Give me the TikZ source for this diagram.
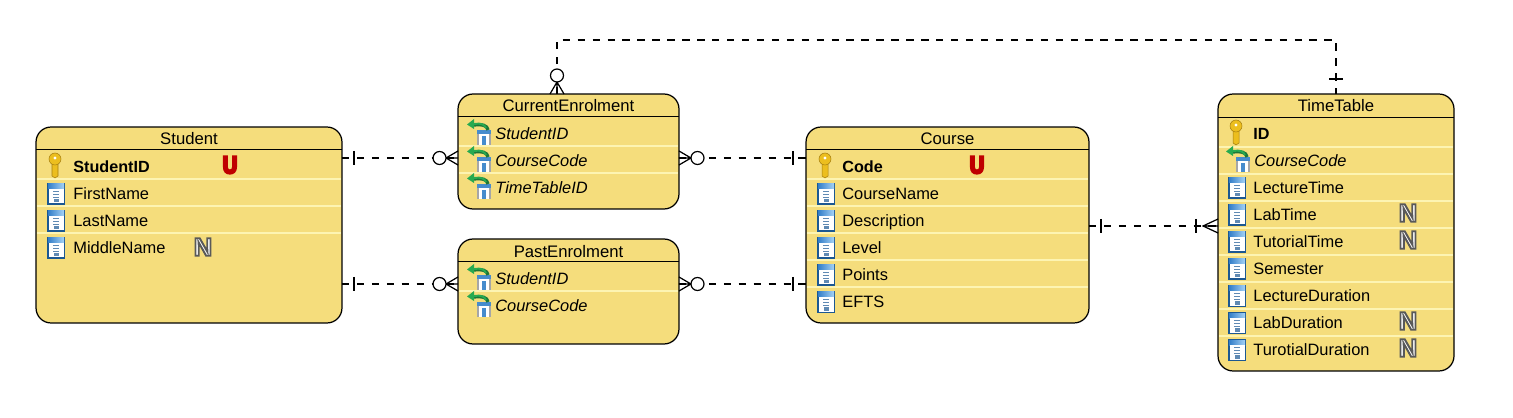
\documentclass[tikz,border=0pt]{standalone}
\usepackage{fontspec}
\usepackage{graphicx}
\usepackage{xcolor}
\usepackage{tikz}
\setmainfont{Liberation Sans}
\definecolor{entityfill}{RGB}{245,221,124}
\definecolor{rowline}{RGB}{253,244,178}
\definecolor{colblue}{RGB}{28,88,146}
\definecolor{colmid}{RGB}{50,125,200}
\definecolor{colsky}{RGB}{165,210,245}
\definecolor{keygold}{RGB}{236,190,30}
\definecolor{keydark}{RGB}{165,125,15}
\definecolor{fkgreen}{RGB}{40,170,80}
\definecolor{fkblue}{RGB}{70,140,205}
% outlined letters: one text, stroked and filled
\newcommand{\ubadge}{\scalebox{1}[1.2]{\special{pdf:code q 2 Tr 0.75 0 0 RG 0.75 0 0 rg 1.1 w}\textbf{U}\special{pdf:code Q}}}
\newcommand{\nbadge}{\special{pdf:code q 2 Tr 0.35 0.35 0.35 RG 1 1 1 rg 1.1 w}\textbf{N}\special{pdf:code Q}}
\tikzset{
	entity/.style={draw,fill=entityfill,rounded corners=0.3cm,line width=0.7pt,inner sep=0pt,outer sep=0pt},
	title/.style={font=\fontsize{9.5}{11}\selectfont,inner sep=0pt,text height=6.8pt,text depth=0pt},
	attr/.style={font=\fontsize{9.35}{11}\selectfont,anchor=west,inner sep=0pt,text height=6.7pt,text depth=0pt},
	pkattr/.style={font=\fontsize{9.2}{11}\selectfont\bfseries,anchor=west,inner sep=0pt,text height=6.7pt,text depth=0pt},
	fkattr/.style={font=\fontsize{9.35}{11}\selectfont\itshape,anchor=west,inner sep=0pt,text height=6.7pt,text depth=0pt},
	ubox/.style={font=\fontsize{11.5}{12}\selectfont,inner sep=0pt},
	nbox/.style={font=\fontsize{14.5}{15}\selectfont,inner sep=0pt},
	headline/.style={line width=0.55pt},
	rowsep/.style={rowline,line width=0.7pt},
	relation/.style={line width=0.7pt,dash pattern=on 4.2pt off 4.3pt},
	tipline/.style={line width=0.7pt},
	colicon/.pic={
		\fill[colblue] (-9,-10) rectangle (9,12);
		\shade[left color=colmid,right color=colsky] (-8,-9) rectangle (8,-4);
		\fill[white] (-7.5,-4) rectangle (7.5,10.5);
		\draw[colblue!70,line width=0.4pt] (-3,-1.5) -- (3,-1.5) (-3,1.5) -- (3,1.5) (-3,4) -- (3,4);
		\fill[colblue!70] (-2.5,6) rectangle (2.5,9.5);
	},
	keyicon/.pic={
		\fill[keygold,draw=keydark,line width=0.3pt] (-3,-3) -- (-3,11) -- (0,13) -- (3,11) -- (3,-3) -- cycle;
		\fill[keygold,draw=keydark,line width=0.3pt] (0,-6) circle (6);
		\fill[white] (0,-7) circle (1.7);
	},
	fkicon/.pic={
		\fill[black!35] (-1,-3) rectangle (13,12);
		\fill[fkblue] (-1,-3) rectangle (13,1);
		\fill[white] (1,1) rectangle (11,12);
		\fill[fkblue] (4,3) rectangle (8,12);
		\draw[fkgreen!70!black,line width=1.9pt] (10,-3) .. controls (9,-8) and (4,-9) .. (-4,-8);
		\draw[fkgreen,line width=1.1pt] (8,-5) .. controls (6,-9) and (3,-10) .. (-4,-9);
		\fill[fkgreen] (-11,-8.5) -- (-4,-14) -- (-4,-4) -- cycle;
	},
	onebar/.pic={
		\draw[tipline] (0,-7) -- (0,7);
	},
	zeromany/.pic={
		\draw[tipline] (0,-7) -- (-12,0) -- (0,7) (0,0) -- (-12,0);
		\draw[tipline,fill=white] (-18.5,0) circle (6.5);
	},
	onemany/.pic={
		\draw[tipline] (0,-7) -- (-15,0) -- (0,7) (0,0) -- (-15,0);
		\draw[tipline] (-22,-7) -- (-22,7);
	}
}

\begin{document}
\begin{tikzpicture}[x=0.02cm,y=-0.02cm]
	\useasboundingbox (0,0) rectangle (1513,418);

	% entities
	\node (student) at (189,225) [entity,minimum width=6.12cm,minimum height=3.92cm] {};
	\node (current) at (568.5,151.5) [entity,minimum width=4.42cm,minimum height=2.3cm] {};
	\node (past) at (568.5,291.5) [entity,minimum width=4.42cm,minimum height=2.1cm] {};
	\node (course) at (947.5,225) [entity,minimum width=5.66cm,minimum height=3.92cm] {};
	\node (timetable) at (1336,232.5) [entity,minimum width=4.72cm,minimum height=5.54cm] {};

	% Student
	\node (studentT) at (189,139) [title] {Student};
	\draw[headline] (student.west |- 0,149) -- (student.east |- 0,149);
	\draw[rowsep] (37,179) -- (341,179);
	\draw[rowsep] (37,206) -- (341,206);
	\draw[rowsep] (37,233) -- (341,233);
	\pic at (55,165) {keyicon};
	\pic at (56,193) {colicon};
	\pic at (56,220) {colicon};
	\pic at (56,247) {colicon};
	\node (studentId) at (73,167) [pkattr] {StudentID};
	\node (studentFirst) at (73,194) [attr] {FirstName};
	\node (studentLast) at (73,221) [attr] {LastName};
	\node (studentMiddle) at (73,248) [attr] {MiddleName};
	\node (studentU) at (230,165) [ubox] {\ubadge};
	\node (studentN) at (203,247) [nbox] {\nbadge};

	% CurrentEnrolment
	\node (currentT) at (568.5,106) [title] {CurrentEnrolment};
	\draw[headline] (current.west |- 0,116) -- (current.east |- 0,116);
	\draw[rowsep] (459,146) -- (678,146);
	\draw[rowsep] (459,173) -- (678,173);
	\pic at (478,133) {fkicon};
	\pic at (478,160) {fkicon};
	\pic at (478,187) {fkicon};
	\node (currentStudent) at (495,134) [fkattr] {StudentID};
	\node (currentCourse) at (495,161) [fkattr] {CourseCode};
	\node (currentTime) at (495,188) [fkattr] {TimeTableID};

	% PastEnrolment
	\node (pastT) at (568.5,252) [title] {PastEnrolment};
	\draw[headline] (past.west |- 0,261) -- (past.east |- 0,261);
	\draw[rowsep] (459,291) -- (678,291);
	\pic at (478,278) {fkicon};
	\pic at (478,305) {fkicon};
	\node (pastStudent) at (495,279) [fkattr] {StudentID};
	\node (pastCourse) at (495,306) [fkattr] {CourseCode};

	% Course
	\node (courseT) at (947.5,139) [title] {Course};
	\draw[headline] (course.west |- 0,149) -- (course.east |- 0,149);
	\draw[rowsep] (807,179) -- (1088,179);
	\draw[rowsep] (807,206) -- (1088,206);
	\draw[rowsep] (807,233) -- (1088,233);
	\draw[rowsep] (807,260) -- (1088,260);
	\draw[rowsep] (807,287) -- (1088,287);
	\pic at (825,165) {keyicon};
	\pic at (826,193) {colicon};
	\pic at (826,220) {colicon};
	\pic at (826,247) {colicon};
	\pic at (826,274) {colicon};
	\pic at (826,301) {colicon};
	\node (courseCode) at (842,167) [pkattr] {Code};
	\node (courseName) at (842,194) [attr] {CourseName};
	\node (courseDesc) at (842,221) [attr] {Description};
	\node (courseLevel) at (842,248) [attr] {Level};
	\node (coursePoints) at (842,275) [attr] {Points};
	\node (courseEfts) at (842,302) [attr] {EFTS};
	\node (courseU) at (977,165) [ubox] {\ubadge};

	% TimeTable
	\node (timeT) at (1336,106) [title] {TimeTable};
	\draw[headline] (timetable.west |- 0,117) -- (timetable.east |- 0,117);
	\draw[rowsep] (1219,147) -- (1453,147);
	\draw[rowsep] (1219,174) -- (1453,174);
	\draw[rowsep] (1219,201) -- (1453,201);
	\draw[rowsep] (1219,228) -- (1453,228);
	\draw[rowsep] (1219,255) -- (1453,255);
	\draw[rowsep] (1219,282) -- (1453,282);
	\draw[rowsep] (1219,309) -- (1453,309);
	\draw[rowsep] (1219,336) -- (1453,336);
	\pic at (1236,132) {keyicon};
	\pic at (1237,160) {fkicon};
	\pic at (1237,187) {colicon};
	\pic at (1237,214) {colicon};
	\pic at (1237,241) {colicon};
	\pic at (1237,268) {colicon};
	\pic at (1237,295) {colicon};
	\pic at (1237,322) {colicon};
	\pic at (1237,349) {colicon};
	\node (timeId) at (1253,134) [pkattr] {ID};
	\node (timeCourse) at (1254,161) [fkattr] {CourseCode};
	\node (timeLecture) at (1253,188) [attr] {LectureTime};
	\node (timeLab) at (1253,215) [attr] {LabTime};
	\node (timeTutorial) at (1253,242) [attr] {TutorialTime};
	\node (timeSemester) at (1253,269) [attr] {Semester};
	\node (timeLectureDur) at (1253,296) [attr] {LectureDuration};
	\node (timeLabDur) at (1253,323) [attr] {LabDuration};
	\node (timeTutDur) at (1253,350) [attr] {TurotialDuration};
	\node (timeN1) at (1408,213) [nbox] {\nbadge};
	\node (timeN2) at (1408,240) [nbox] {\nbadge};
	\node (timeN3) at (1408,321) [nbox] {\nbadge};
	\node (timeN4) at (1408,348) [nbox] {\nbadge};

	% relations
	\coordinate (linkA) at (400,158);
	\coordinate (linkB) at (400,284);
	\coordinate (linkC) at (1150,226);
	\coordinate (topA) at (557,94);
	\coordinate (topB) at (1336,94);
	\coordinate (upper) at (900,40);
	\draw[relation] (student.east |- linkA) -- (current.west |- linkA);
	\draw[relation] (student.east |- linkB) -- (past.west |- linkB);
	\draw[relation] (current.east |- linkA) -- (course.west |- linkA);
	\draw[relation] (past.east |- linkB) -- (course.west |- linkB);
	\draw[relation] (course.east |- linkC) -- (timetable.west |- linkC);
	\draw[relation] (topA) |- (upper) -| (topB);

	\pic at (354,158) {onebar};
	\pic at (354,284) {onebar};
	\pic at (793,158) {onebar};
	\pic at (793,284) {onebar};
	\pic at (1101,226) {onebar};
	\pic at (1336,79) [rotate=90] {onebar};
	\pic at (current.west |- linkA) {zeromany};
	\pic at (past.west |- linkB) {zeromany};
	\pic at (current.east |- linkA) [rotate=180] {zeromany};
	\pic at (past.east |- linkB) [rotate=180] {zeromany};
	\pic at (timetable.west |- linkC) {onemany};
	\pic at (topA) [rotate=-90] {zeromany};
\end{tikzpicture}
\end{document}
